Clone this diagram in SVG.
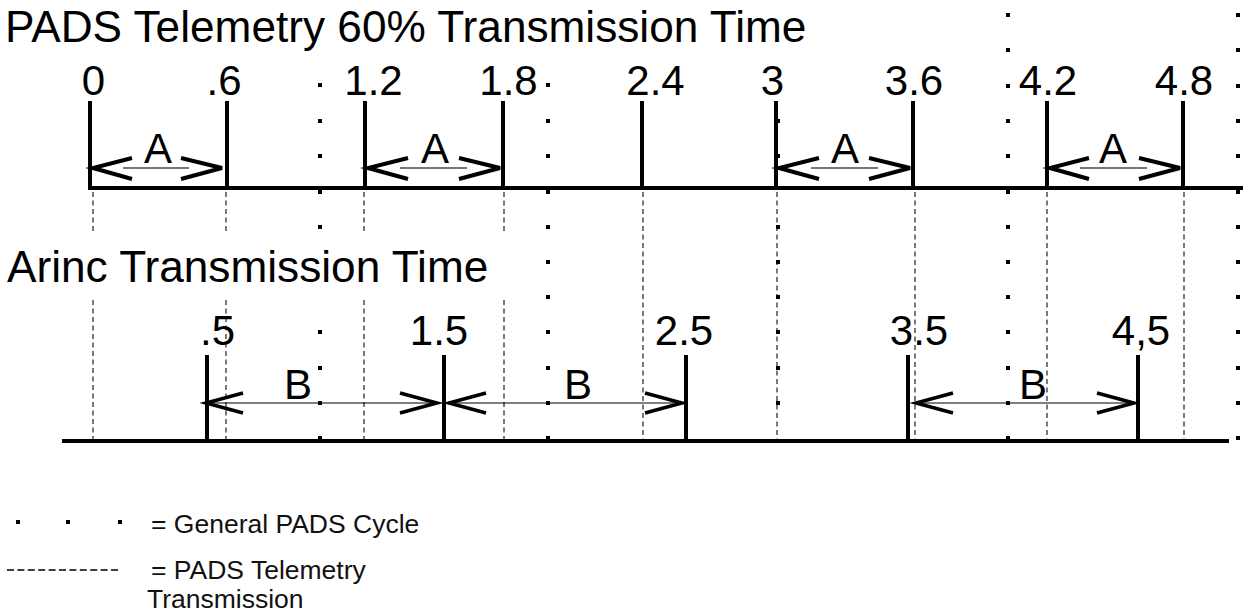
<svg xmlns="http://www.w3.org/2000/svg" width="1252" height="613" viewBox="0 0 1252 613">
<style>
  text { font-family: "Liberation Sans", Arial, sans-serif; fill: #000; }
  .title { font-size: 44.2px; }
  .lbl { font-size: 42px; text-anchor: middle; }
  .leg { font-size: 26.5px; fill: #111; }
  .axis { stroke: #000; stroke-width: 4; fill: none; }
  .tick { stroke: #000; stroke-width: 4; fill: none; }
  .guide { stroke: #222; stroke-width: 1.2; stroke-dasharray: 5 3.5; fill: none; }
  .chev { stroke: #000; stroke-width: 4; fill: none; stroke-linejoin: miter; }
  .chevb { stroke: #000; stroke-width: 3.5; fill: none; }
  .shaftA { stroke: #777; stroke-width: 2; }
  .shaftB { stroke: #000; stroke-width: 1.2; }
  .dot { fill: #000; }
</style>
<defs>
  <rect id="d" x="-2" y="-2" width="4" height="4" class="dot"/>
</defs>
<rect width="1252" height="613" fill="#fff"/>

<!-- dashed guide lines -->
<g id="guides">
  <path class="guide" d="M93 192V233M93 300V440M226 192V233M226 300V440M364 192V233M364 300V440M504 192V233M504 300V440M643 192V440M777 192V440M915 192V440M1047 192V440M1184 192V440"/>
</g>

<!-- general PADS cycle dots -->
<g id="dots">
  <use href="#d" x="320" y="85"/><use href="#d" x="320" y="121"/><use href="#d" x="320" y="156"/><use href="#d" x="320" y="192"/><use href="#d" x="320" y="227"/><use href="#d" x="320" y="332"/><use href="#d" x="320" y="368"/><use href="#d" x="320" y="403"/><use href="#d" x="320" y="438"/>
  <use href="#d" x="548" y="85"/><use href="#d" x="548" y="121"/><use href="#d" x="548" y="156"/><use href="#d" x="548" y="192"/><use href="#d" x="548" y="227"/><use href="#d" x="548" y="262"/><use href="#d" x="548" y="297"/><use href="#d" x="548" y="332"/><use href="#d" x="548" y="368"/><use href="#d" x="548" y="403"/><use href="#d" x="548" y="438"/>
  <use href="#d" x="778" y="121"/><use href="#d" x="778" y="156"/><use href="#d" x="778" y="227"/><use href="#d" x="778" y="262"/><use href="#d" x="778" y="297"/><use href="#d" x="778" y="332"/><use href="#d" x="778" y="368"/><use href="#d" x="778" y="403"/>
  <use href="#d" x="1008" y="15"/><use href="#d" x="1008" y="50"/><use href="#d" x="1008" y="86"/><use href="#d" x="1008" y="121"/><use href="#d" x="1008" y="156"/><use href="#d" x="1008" y="192"/><use href="#d" x="1008" y="227"/><use href="#d" x="1008" y="262"/><use href="#d" x="1008" y="297"/><use href="#d" x="1008" y="332"/><use href="#d" x="1008" y="368"/><use href="#d" x="1008" y="403"/><use href="#d" x="1008" y="438"/>
  <use href="#d" x="1238" y="15"/><use href="#d" x="1238" y="50"/><use href="#d" x="1238" y="86"/><use href="#d" x="1238" y="121"/><use href="#d" x="1238" y="156"/><use href="#d" x="1238" y="192"/><use href="#d" x="1238" y="227"/><use href="#d" x="1238" y="262"/><use href="#d" x="1238" y="297"/><use href="#d" x="1238" y="332"/><use href="#d" x="1238" y="368"/><use href="#d" x="1238" y="403"/><use href="#d" x="1238" y="438"/>
</g>

<!-- titles -->
<g id="title-pads">
  <text class="title" x="5" y="42">PADS Telemetry 60% Transmission Time</text>
</g>
<g id="title-arinc">
  <text class="title" x="7" y="282">Arinc Transmission Time</text>
</g>

<!-- PADS telemetry timeline -->
<g id="pads-axis">
  <line class="axis" x1="88" y1="188" x2="1243" y2="188"/>
  <path class="tick" d="M90 101V190M227 101V190M365 101V190M503 101V190M642 101V190M776 101V190M913 101V190M1047 101V190M1183 101V190"/>
  <text class="lbl" x="93.5" y="95">0</text>
  <text class="lbl" x="224" y="95">.6</text>
  <text class="lbl" x="373.5" y="95">1.2</text>
  <text class="lbl" x="508.5" y="95">1.8</text>
  <text class="lbl" x="655.5" y="95">2.4</text>
  <text class="lbl" x="772.5" y="95">3</text>
  <text class="lbl" x="914" y="95">3.6</text>
  <text class="lbl" x="1048" y="95">4.2</text>
  <text class="lbl" x="1184" y="95">4.8</text>
</g>

<!-- Arinc timeline -->
<g id="arinc-axis">
  <line class="axis" x1="62" y1="441" x2="1229" y2="441"/>
  <path class="tick" d="M207 355V441M444 355V441M686 355V441M908 355V441M1138 355V441"/>
  <text class="lbl" x="217.5" y="345">.5</text>
  <text class="lbl" x="439" y="345">1.5</text>
  <text class="lbl" x="684" y="345">2.5</text>
  <text class="lbl" x="919" y="345">3.5</text>
  <text class="lbl" x="1141" y="345">4,5</text>
</g>

<!-- interval arrows -->
<g id="connectors">
  <g id="arrow-a1">
    <line class="shaftA" x1="123" y1="168" x2="189" y2="168"/>
    <polyline class="chev" points="132,158 93,168 132,179"/>
    <polyline class="chev" points="181,158 222,168 181,179"/>
    <text class="lbl" x="158" y="163">A</text>
  </g>
  <g id="arrow-a2">
    <line class="shaftA" x1="400" y1="168" x2="467" y2="168"/>
    <polyline class="chev" points="408,158 368,168 408,179"/>
    <polyline class="chev" points="459,158 500,168 459,179"/>
    <text class="lbl" x="435" y="163">A</text>
  </g>
  <g id="arrow-a3">
    <line class="shaftA" x1="811" y1="168" x2="878" y2="168"/>
    <polyline class="chev" points="819,158 779,168 819,179"/>
    <polyline class="chev" points="869,158 910,168 869,179"/>
    <text class="lbl" x="845" y="163">A</text>
  </g>
  <g id="arrow-a4">
    <line class="shaftA" x1="1080" y1="168" x2="1147" y2="168"/>
    <polyline class="chev" points="1089,158 1050,168 1089,179"/>
    <polyline class="chev" points="1139,158 1180,168 1139,179"/>
    <text class="lbl" x="1113" y="163">A</text>
  </g>
  <g id="arrow-b1">
    <line class="shaftB" x1="205" y1="403" x2="438" y2="403"/>
    <polyline class="chevb" points="243,393 206,403 243,413"/>
    <polyline class="chevb" points="400,393 437,403 400,413"/>
    <text class="lbl" x="298" y="399">B</text>
  </g>
  <g id="arrow-b2">
    <line class="shaftB" x1="448" y1="403" x2="683" y2="403"/>
    <polyline class="chevb" points="486,393 449,403 486,413"/>
    <polyline class="chevb" points="645,393 682,403 645,413"/>
    <text class="lbl" x="578" y="399">B</text>
  </g>
  <g id="arrow-b3">
    <line class="shaftB" x1="915" y1="403" x2="1135" y2="403"/>
    <polyline class="chevb" points="953,393 916,403 953,413"/>
    <polyline class="chevb" points="1097,393 1134,403 1097,413"/>
    <text class="lbl" x="1033" y="399">B</text>
  </g>
</g>

<!-- legend -->
<g id="legend">
  <rect x="16" y="520" width="4" height="4" class="dot"/>
  <rect x="66" y="520" width="4" height="4" class="dot"/>
  <rect x="118" y="520" width="4" height="4" class="dot"/>
  <text class="leg" x="151" y="533">= General PADS Cycle</text>
  <line x1="7" y1="570" x2="121" y2="570" stroke="#000" stroke-width="1.5" stroke-dasharray="7 3.4"/>
  <text class="leg" x="151" y="579">= PADS Telemetry</text>
  <text class="leg" x="147" y="608">Transmission</text>
</g>
</svg>
